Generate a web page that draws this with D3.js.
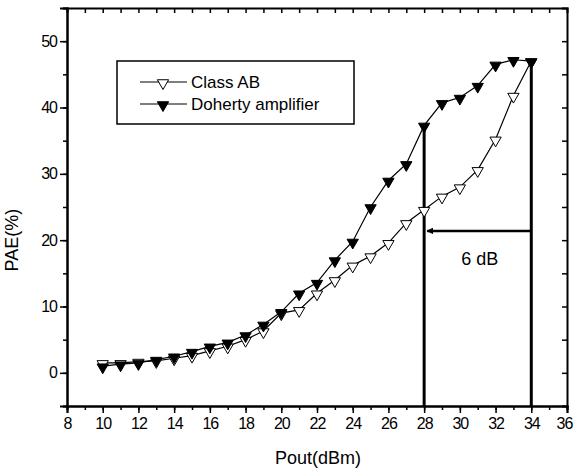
<!DOCTYPE html>
<html lang="en">
<head>
<meta charset="utf-8">
<title>PAE vs Pout</title>
<style>
  body { margin: 0; background: #fff; }
  .tick text { font-family: "Liberation Sans", Arial, sans-serif; font-size: 16px; letter-spacing: -1px; fill: #000; }
  .axis path, .axis line { stroke: #000; }
  .axis path { stroke-width: 2; }
  .axis-title { font-family: "Liberation Sans", Arial, sans-serif; font-size: 18px; text-anchor: middle; }
  .legend text { font-family: "Liberation Sans", Arial, sans-serif; font-size: 17px; }
</style>
</head>
<body>
<div id="chart"></div>
<script src="https://cdn.jsdelivr.net/npm/d3@7"></script>
<script>
// data
var pout = [10, 11, 12, 13, 14, 15, 16, 17, 18, 19, 20, 21, 22, 23, 24, 25, 26, 27, 28, 29, 30, 31, 32, 33, 34];
var classAB = [1.5, 1.5, 1.7, 1.8, 2.2, 2.6, 3.3, 4.0, 5.0, 6.3, 9.0, 9.5, 12.0, 14.0, 16.2, 17.6, 19.6, 22.6, 24.6, 26.6, 28.0, 30.6, 35.2, 41.8, 47.0];
var doherty = [1.0, 1.3, 1.5, 2.0, 2.5, 3.2, 4.0, 4.6, 5.7, 7.3, 9.2, 12.0, 13.6, 17.0, 19.8, 25.0, 29.0, 31.5, 37.3, 40.7, 41.5, 43.3, 46.5, 47.2, 47.0];
var xTicks = [8, 10, 12, 14, 16, 18, 20, 22, 24, 26, 28, 30, 32, 34, 36];
var yTicks = [0, 10, 20, 30, 40, 50];
var seriesNames = ["Class AB", "Doherty amplifier"];
// 6 dB annotation: back-off from 34 to 28 dBm
var markLow = 28, markHigh = 34, arrowY = 21.4;

var margin = {top: 8, right: 7, bottom: 64, left: 67},
    width = 574 - margin.left - margin.right,
    height = 470 - margin.top - margin.bottom;

var svg = d3.select("#chart").append("svg")
    .attr("width", 574)
    .attr("height", 470);

var plt = svg.append("g").attr("transform", "translate(" + margin.left + "," + margin.top + ")");

var x = d3.scaleLinear().domain([8, 36]).range([0, width]);
var y = d3.scaleLinear().domain([-5, 55]).range([height, 0]);

// minor ticks
var xMinor = d3.range(8, 37, 1);
var yMinor = d3.range(-5, 56, 5);

plt.append("g").attr("class", "axis")
   .attr("transform", "translate(0," + height + ")")
   .call(d3.axisBottom(x).tickValues(xMinor).tickSize(4).tickFormat(""));
plt.append("g").attr("class", "axis x-major")
   .attr("transform", "translate(0," + height + ")")
   .call(d3.axisBottom(x).tickValues(xTicks).tickSize(7).tickPadding(5).tickFormat(d3.format("d")));

// keep the last label inside the window
plt.selectAll(".x-major .tick text").filter(function(d) { return d === 36; }).attr("dx", -3);

plt.append("g").attr("class", "axis")
   .call(d3.axisLeft(y).tickValues(yMinor).tickSize(4).tickFormat(""));
plt.append("g").attr("class", "axis")
   .call(d3.axisLeft(y).tickValues(yTicks).tickSize(7).tickPadding(3).tickFormat(d3.format("d")));

// top and right frame with inward ticks
plt.append("g").attr("class", "axis")
   .call(d3.axisTop(x).tickValues(xMinor.slice(1, -1)).tickSize(-5).tickFormat(""));
plt.append("g").attr("class", "axis")
   .attr("transform", "translate(" + width + ",0)")
   .call(d3.axisRight(y).tickValues(yMinor.slice(1, -1)).tickSize(-5).tickFormat(""));

plt.selectAll(".axis line").attr("stroke-width", 1.5);

// annotation lines
var vertical = [
  {x: markLow, top: doherty[pout.indexOf(markLow)]},
  {x: markHigh, top: doherty[pout.indexOf(markHigh)]}
];
plt.selectAll(".vline").data(vertical).enter().append("line")
   .attr("class", "vline")
   .attr("x1", function(d) { return x(d.x); })
   .attr("x2", function(d) { return x(d.x); })
   .attr("y1", y(-5))
   .attr("y2", function(d) { return y(d.top); })
   .attr("stroke", "#000")
   .attr("stroke-width", 3);

svg.append("defs").append("marker")
   .attr("id", "arrow")
   .attr("viewBox", "0 0 10 10")
   .attr("refX", 9).attr("refY", 5)
   .attr("markerWidth", 4.5).attr("markerHeight", 2.6)
   .attr("orient", "auto")
   .append("path").attr("d", "M0,0L10,5L0,10Z").attr("fill", "#000");

plt.append("line")
   .attr("x1", x(markHigh)).attr("x2", x(markLow) + 3)
   .attr("y1", y(arrowY)).attr("y2", y(arrowY))
   .attr("stroke", "#000").attr("stroke-width", 2.5)
   .attr("marker-end", "url(#arrow)");

plt.append("text")
   .attr("x", x((markLow + markHigh) / 2) + 2)
   .attr("y", y(arrowY) + 34)
   .attr("text-anchor", "middle")
   .style("font-family", "'Liberation Sans', Arial, sans-serif")
   .style("font-size", "18px")
   .text("6 dB");

// series
var line = d3.line().x(function(d) { return x(d[0]); }).y(function(d) { return y(d[1]); });
var tri = d3.symbol().type(d3.symbolTriangle).size(55);

function drawSeries(vals, fill) {
  var pts = pout.map(function(p, i) { return [p, vals[i]]; });
  plt.append("path").datum(pts)
     .attr("d", line)
     .attr("fill", "none")
     .attr("stroke", "#000")
     .attr("stroke-width", 1.2);
  plt.selectAll(null).data(pts).enter().append("path")
     .attr("d", tri)
     .attr("transform", function(d) { return "translate(" + x(d[0]) + "," + (y(d[1]) + 1) + ") rotate(180)"; })
     .attr("fill", fill)
     .attr("stroke", "#000")
     .attr("stroke-width", 1);
}
drawSeries(classAB, "#fff");
drawSeries(doherty, "#000");

// legend
var legend = svg.append("g").attr("class", "legend").attr("transform", "translate(117,61)");
legend.append("rect")
   .attr("width", 237).attr("height", 63)
   .attr("fill", "#fff").attr("stroke", "#000").attr("stroke-width", 1.5);
var items = legend.selectAll(".item").data(seriesNames).enter().append("g")
   .attr("transform", function(d, i) { return "translate(0," + (21 + i * 22) + ")"; });
items.append("line")
   .attr("x1", 23).attr("x2", 70)
   .attr("stroke", "#000").attr("stroke-width", 1.2);
items.append("path")
   .attr("d", tri)
   .attr("transform", "translate(46,1) rotate(180)")
   .attr("fill", function(d, i) { return i === 0 ? "#fff" : "#000"; })
   .attr("stroke", "#000");
items.append("text")
   .attr("x", 74).attr("y", 6)
   .text(function(d) { return d; });

// axis titles
svg.append("text")
   .attr("class", "axis-title")
   .attr("x", margin.left + width / 2 + 1)
   .attr("y", 464)
   .text("Pout(dBm)");
svg.append("text")
   .attr("class", "axis-title")
   .attr("transform", "translate(18," + (margin.top + y(20)) + ") rotate(-90)")
   .text("PAE(%)");
</script>
</body>
</html>
